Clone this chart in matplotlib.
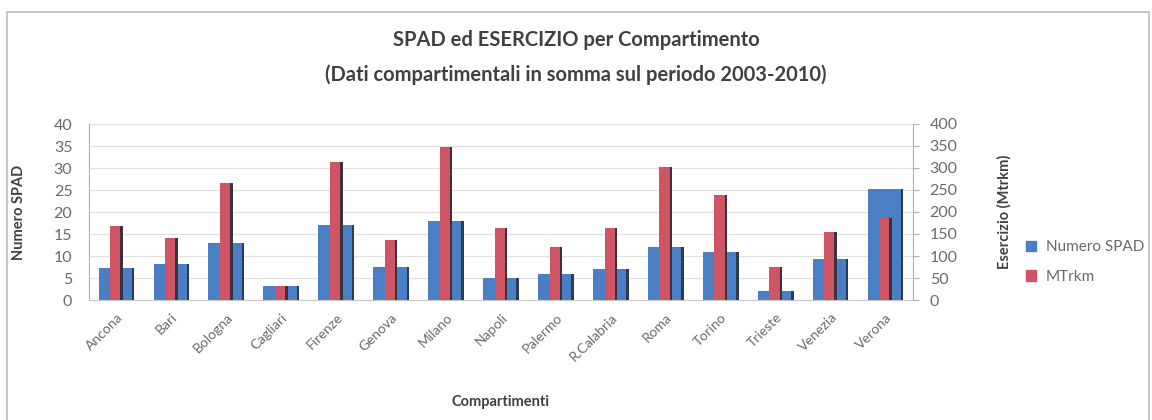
import matplotlib
matplotlib.use("Agg")
import matplotlib.pyplot as plt
import numpy as np
from matplotlib.patches import Rectangle

plt.rcParams["font.family"] = ["Lato", "DejaVu Sans"]

compartimenti = ["Ancona", "Bari", "Bologna", "Cagliari", "Firenze", "Genova", "Milano",
                 "Napoli", "Palermo", "R.Calabria", "Roma", "Torino", "Trieste",
                 "Venezia", "Verona"]
numero_spad = [7.2, 8.2, 13.0, 3.1, 17.1, 7.4, 17.9, 4.9, 5.9, 7.0, 12.0, 11.0, 2.0, 9.3, 25.2]
mtrkm = [169, 140, 265, 31, 314, 136, 347, 163, 120, 164, 303, 239, 74, 155, 186]

BLUE = "#4a7fc6"
RED = "#cf5565"
SHADE = "#27303a"
TXT = "#6a6a6a"

x = np.arange(len(compartimenti))
w_blue = 0.65
w_red = 0.23
w_shade = 0.045

fig = plt.figure(figsize=(11.52, 4.2), dpi=100)
ax = fig.add_axes([89 / 1152, 1 - 300 / 420, (913 - 89) / 1152, (300 - 124) / 420])
ax2 = ax.twinx()

# primary series: wide blue bars with a dark right edge
ax.bar(x, numero_spad, width=w_blue, color=BLUE, zorder=2)
ax.bar(x + w_blue / 2 - w_shade / 2, numero_spad, width=w_shade, color=SHADE, alpha=0.85, zorder=3)

# secondary series: narrow red bars drawn over the blue ones
ax2.bar(x, mtrkm, width=w_red, color=RED, zorder=2)
ax2.bar(x + w_red / 2 - w_shade / 2, mtrkm, width=w_shade, color=SHADE, alpha=0.9, zorder=3)

ax.set_xlim(-0.5, len(x) - 0.5)
ax.set_ylim(0, 40)
ax2.set_ylim(0, 400)
ax.set_yticks(np.arange(0, 41, 5))
ax2.set_yticks(np.arange(0, 401, 50))
ax.yaxis.grid(True, color="#e2e2e2", linewidth=0.9, zorder=0)
ax.set_axisbelow(True)

for a in (ax, ax2):
    a.spines["top"].set_visible(False)
    a.spines["left"].set_color("#b0b0b0")
    a.spines["right"].set_color("#b0b0b0")
    a.spines["bottom"].set_color("#c8c8c8")
    a.tick_params(axis="y", colors=TXT, labelsize=11.5, length=4, color="#b0b0b0")
ax.tick_params(axis="y", length=0, pad=12)
ax2.tick_params(axis="y", pad=8)
ax.spines["right"].set_visible(False)
ax2.spines["left"].set_visible(False)
ax2.spines["bottom"].set_visible(False)

ax.set_xticks(x)
ax.set_xticklabels(compartimenti, rotation=45, ha="right", rotation_mode="anchor",
                   fontsize=10, color=TXT)
ax.tick_params(axis="x", length=0, pad=8)

ax.set_ylabel("Numero SPAD", fontsize=10.5, fontweight="bold", color="#404040", labelpad=20)
ax2.set_ylabel("Esercizio (Mtrkm)", fontsize=10.5, fontweight="bold", color="#404040", labelpad=28)
ax.set_xlabel("Compartimenti", fontsize=10.5, fontweight="bold", color="#404040", labelpad=23)

fig.text(0.5, 1 - 40 / 420, "SPAD ed ESERCIZIO per Compartimento",
         ha="center", va="center", fontsize=14.5, fontweight="bold", color="#404040")
fig.text(0.5, 1 - 75 / 420, "(Dati compartimentali in somma sul periodo 2003-2010)",
         ha="center", va="center", fontsize=14.5, fontweight="bold", color="#404040")

# legend on the right
handles = [Rectangle((0, 0), 1, 1, color=BLUE), Rectangle((0, 0), 1, 1, color=RED)]
fig.legend(handles, ["Numero SPAD", "MTrkm"], loc="center left",
           bbox_to_anchor=(1012 / 1152, 1 - 262 / 420), frameon=False,
           fontsize=11, labelcolor=TXT, handlelength=0.7, handleheight=0.7,
           handletextpad=0.6, labelspacing=1.0)

# chart area frame
fig.patches.append(Rectangle((7 / 1152, -0.05), 1142 / 1152, 1 - 12 / 420 + 0.05,
                             transform=fig.transFigure, fill=False,
                             edgecolor="#bdbdbd", linewidth=1.2))

fig.savefig("out.png", dpi=100)
